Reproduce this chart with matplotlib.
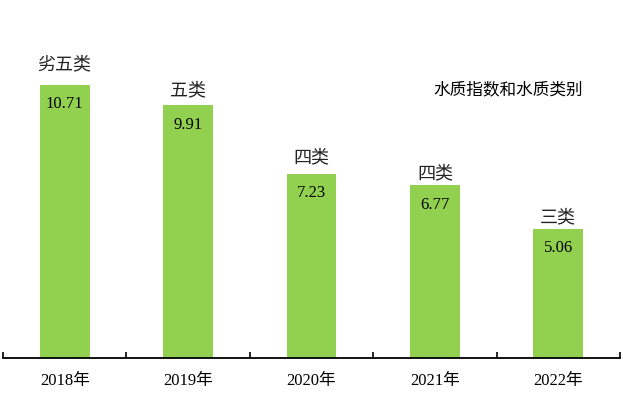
import numpy as np
import matplotlib
matplotlib.use("Agg")
import matplotlib.pyplot as plt

# Data
years = ["2018年", "2019年", "2020年", "2021年", "2022年"]
index_values = [10.71, 9.91, 7.23, 6.77, 5.06]
grades = ["劣五类", "五类", "四类", "四类", "三类"]
# gap (points) between bar top and the grade label, hand-placed in the original
grade_gap = [15, 11, 12, 9, 8.5]

BAR_COLOR = "#92D050"
SERIF = ["Liberation Serif", "Noto Sans CJK SC"]
CJK = ["Noto Sans CJK SC", "DejaVu Sans"]

fig = plt.figure(figsize=(6.23, 3.97), dpi=100)
ax = fig.add_axes([3 / 623, 39 / 397, 617 / 623, 331.5 / 397])

x = np.arange(len(years))
bars = ax.bar(x, index_values, width=0.405, color=BAR_COLOR)

ax.set_xlim(-0.5, len(years) - 0.5)
ax.set_ylim(0, 13)

# value inside the bar, grade above the bar
for rect, val, grade, gap in zip(bars, index_values, grades, grade_gap):
    cx = rect.get_x() + rect.get_width() / 2
    top = rect.get_height()
    ax.annotate(f"{val:.2f}", (cx, top), xytext=(0, -14), textcoords="offset points",
                ha="center", va="center", fontsize=12, family=SERIF)
    ax.annotate(grade, (cx, top), xytext=(0, gap), textcoords="offset points",
                ha="center", va="center", fontsize=13, family=CJK, color="#222222")

ax.text(0.818, 0.81, "水质指数和水质类别", transform=ax.transAxes,
        ha="center", va="center", fontsize=12, family=CJK)

for side in ["left", "right", "top"]:
    ax.spines[side].set_visible(False)
ax.spines["bottom"].set_linewidth(1.3)
ax.set_yticks([])

ax.set_xticks(x)
ax.set_xticklabels(years, family=SERIF, fontsize=12)
ax.tick_params(axis="x", which="major", length=0, pad=11)
ax.set_xticks(np.arange(-0.5, len(years)), minor=True)
ax.tick_params(axis="x", which="minor", direction="in", length=4.5, width=1.2)

fig.savefig("out.png", dpi=100)
